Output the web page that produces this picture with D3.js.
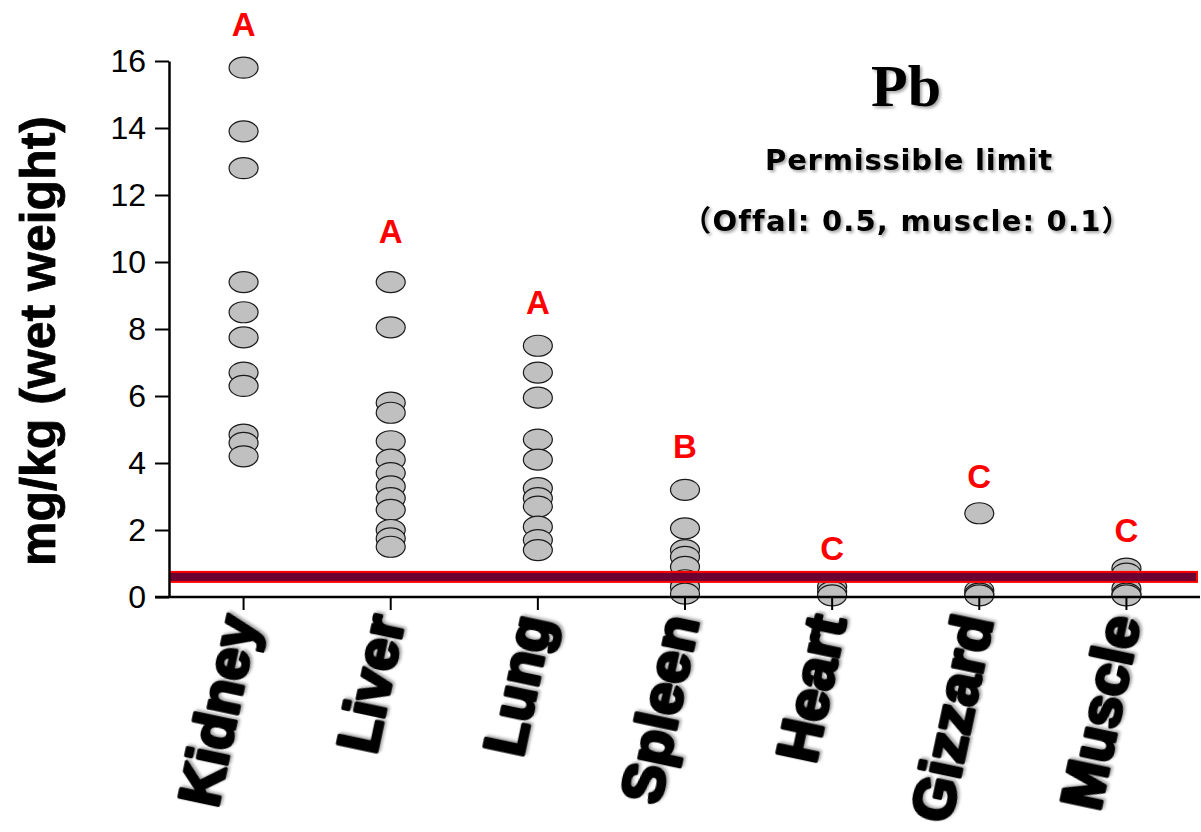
<!DOCTYPE html>
<html>
<head>
<meta charset="utf-8">
<script src="https://cdn.jsdelivr.net/npm/d3@7"></script>
<style>
  body { margin: 0; background: #fff; }
  svg { display: block; }
</style>
</head>
<body>
<div id="chart"></div>
<script>
// organs on the x axis
const organs = ["Kidney", "Liver", "Lung", "Spleen", "Heart", "Gizzard", "Muscle"];

// Pb values, mg/kg wet weight
const kidney = [15.8, 13.9, 12.8, 9.4, 8.5, 7.75, 6.7, 6.3, 4.85, 4.6, 4.2];
const liver = [9.4, 8.05, 5.8, 5.5, 4.65, 4.1, 3.7, 3.3, 2.95, 2.6, 2.0, 1.75, 1.5];
const lung = [7.5, 6.7, 5.95, 4.7, 4.1, 3.25, 2.95, 2.7, 2.1, 1.7, 1.4];
const spleen = [3.2, 2.05, 1.4, 1.2, 0.9, 0.5, 0.3, 0.1];
const heart = [0.3, 0.15, 0.05];
const gizzard = [2.5, 0.2, 0.1, 0.05];
const muscle = [0.85, 0.7, 0.25, 0.1, 0.05];

// significance letters and the level where each one sits
const letters = ["A", "A", "A", "B", "C", "C", "C"];
const letterLevel = [17.1, 10.9, 8.8, 4.5, 1.45, 3.6, 2.0];

const yTicks = [0, 2, 4, 6, 8, 10, 12, 14, 16];
const limitValue = 0.6;

const groups = [kidney, liver, lung, spleen, heart, gizzard, muscle];

const W = 1201, H = 832;
const svg = d3.select("#chart").append("svg")
  .attr("width", W)
  .attr("height", H);

const defs = svg.append("defs");
const shadow = defs.append("filter").attr("id", "shadow")
  .attr("x", "-20%").attr("y", "-20%").attr("width", "140%").attr("height", "140%");
shadow.append("feDropShadow")
  .attr("dx", 2).attr("dy", 2).attr("stdDeviation", 1.5)
  .attr("flood-color", "#000").attr("flood-opacity", 0.35);

const x = d3.scaleBand().domain(organs).range([170, 1200]);
const y = d3.scaleLinear().domain([0, 16]).range([597, 61]);
const cx = (d) => x(d) + x.bandwidth() / 2;

// points
const pts = [];
groups.forEach((vals, i) => vals.forEach((v) => pts.push({ organ: organs[i], v })));

svg.append("g")
  .selectAll("ellipse")
  .data(pts)
  .enter()
  .append("ellipse")
  .attr("cx", (d) => cx(d.organ))
  .attr("cy", (d) => y(d.v))
  .attr("rx", 14.5)
  .attr("ry", 10.5)
  .attr("fill", "#c0c0c0")
  .attr("stroke", "#1a1a1a")
  .attr("stroke-width", 1.2);

// permissible limit band
svg.append("rect")
  .attr("x", 170)
  .attr("y", y(limitValue) - 5)
  .attr("width", 1197 - 170)
  .attr("height", 10)
  .attr("fill", "#6b0033")
  .attr("stroke", "#ff0000")
  .attr("stroke-width", 2);

// y axis
const yAxis = svg.append("g")
  .attr("transform", "translate(169,0)")
  .call(d3.axisLeft(y).tickValues(yTicks).tickSize(14).tickPadding(9).tickSizeOuter(0));
yAxis.select(".domain").attr("stroke-width", 2.5);
yAxis.selectAll(".tick line").attr("stroke-width", 2);
yAxis.selectAll(".tick text")
  .attr("font-family", "Liberation Sans, Arial, sans-serif")
  .attr("font-size", 32)
  .attr("fill", "#000");

// x axis
const xAxis = svg.append("g")
  .attr("transform", "translate(0,597)")
  .call(d3.axisBottom(x).tickSize(13).tickSizeOuter(0).tickFormat(""));
xAxis.select(".domain").attr("d", "M155,0H1200").attr("stroke-width", 2.5);
xAxis.selectAll(".tick line").attr("stroke-width", 2);

// organ labels
svg.append("g")
  .selectAll("text")
  .data(organs)
  .enter()
  .append("text")
  .attr("transform", (d) => `translate(${cx(d) + 14},620) rotate(-78)`)
  .attr("text-anchor", "end")
  .attr("font-family", "Liberation Sans, Arial, sans-serif")
  .attr("font-weight", "bold")
  .attr("font-size", 58)
  .attr("stroke", "#000")
  .attr("stroke-width", 3.5)
  .attr("stroke-linejoin", "round")
  .attr("filter", "url(#shadow)")
  .text((d) => d);

// letters
svg.append("g")
  .selectAll("text")
  .data(letters)
  .enter()
  .append("text")
  .attr("x", (d, i) => cx(organs[i]))
  .attr("y", (d, i) => y(letterLevel[i]))
  .attr("dy", "0.35em")
  .attr("text-anchor", "middle")
  .attr("font-family", "Liberation Sans, Arial, sans-serif")
  .attr("font-weight", "bold")
  .attr("font-size", 33)
  .attr("fill", "#ff0000")
  .text((d) => d);

// y label
svg.append("text")
  .attr("transform", "translate(55,341) rotate(-90)")
  .attr("text-anchor", "middle")
  .attr("font-family", "Liberation Sans, Arial, sans-serif")
  .attr("font-weight", "bold")
  .attr("font-size", 50)
  .attr("stroke", "#000")
  .attr("stroke-width", 0.8)
  .text("mg/kg (wet weight)");

// title block
svg.append("text")
  .attr("x", 906).attr("y", 106)
  .attr("text-anchor", "middle")
  .attr("font-family", "Liberation Serif, Times New Roman, serif")
  .attr("font-weight", "bold")
  .attr("font-size", 60)
  .attr("filter", "url(#shadow)")
  .text("Pb");

svg.append("text")
  .attr("x", 909).attr("y", 170)
  .attr("text-anchor", "middle")
  .attr("font-family", "DejaVu Sans, sans-serif")
  .attr("font-size", 29)
  .attr("font-weight", "bold")
  .attr("letter-spacing", 0.8)
  .attr("filter", "url(#shadow)")
  .text("Permissible limit");

svg.append("text")
  .attr("x", 907).attr("y", 231)
  .attr("text-anchor", "middle")
  .attr("font-family", "DejaVu Sans, Noto Sans CJK JP, sans-serif")
  .attr("font-size", 29)
  .attr("font-weight", "bold")
  .attr("letter-spacing", 1.2)
  .attr("filter", "url(#shadow)")
  .text("（Offal: 0.5, muscle: 0.1）");
</script>
</body>
</html>
